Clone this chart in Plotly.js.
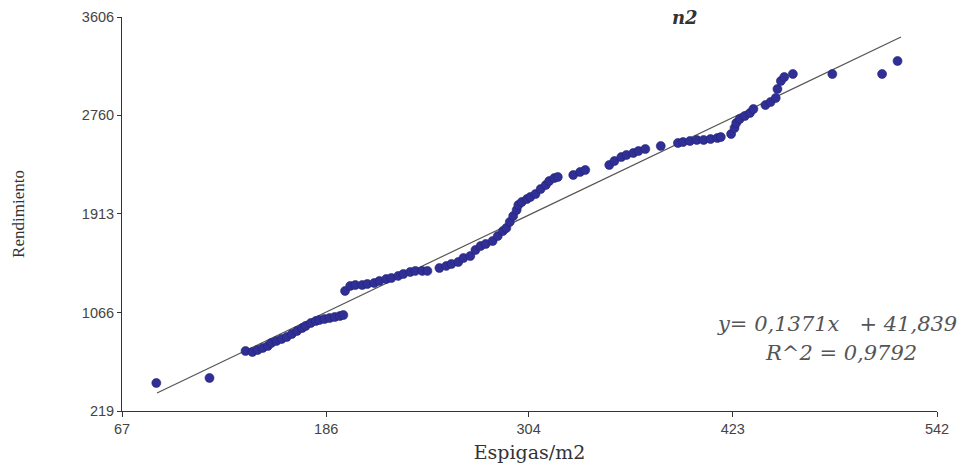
<!DOCTYPE html>
<html>
<head>
<meta charset="utf-8">
<script src="https://cdn.plot.ly/plotly-3.0.1.min.js"></script>
<style>html,body{margin:0;padding:0;background:#fff;}#chart{width:968px;height:470px;}</style>
</head>
<body>
<div id="chart"></div>
<script>
// Observed points: Espigas/m2 (x) vs Rendimiento (y)
const espigas = [87,118,139,143,146,149,152,154,157,160,163,166,169,172,174,177,180,182,185,188,191,194,196,
  197,200,203,207,210,214,217,221,224,228,231,235,238,242,245,252,256,259,263,266,270,273,276,279,283,286,289,291,293,295,297,298,300,303,305,308,311,314,316,319,321,330,334,337,351,354,358,361,365,368,372,381,391,394,398,402,406,410,414,416,422,424,425,427,430,433,435,442,445,448,449,451,453,458,481,510,519];
const rendimiento = [460,503,735,726,743,761,778,804,821,838,855,881,907,932,950,975,993,1001,1010,1018,1027,1036,1044,
  1251,1294,1302,1302,1311,1319,1337,1354,1362,1380,1397,1414,1423,1423,1423,1448,1466,1483,1500,1534,1551,1603,1637,1655,1680,1723,1766,1792,1844,1895,1947,1990,2016,2041,2059,2084,2127,2162,2196,2222,2231,2248,2274,2291,2334,2368,2402,2420,2437,2454,2471,2497,2523,2531,2540,2549,2549,2557,2566,2574,2600,2652,2695,2729,2755,2781,2815,2849,2875,2910,2987,3056,3090,3116,3116,3116,3228];
// Fitted line endpoints
const fitX = [87.4, 521.0];
const fitY = [374, 3434];
// Axis ticks
const xTicks = [67,186,304,423,542];
const yTicks = [219,1066,1913,2760,3606];
// Texts
const panelLabel = "n2";
const eqLine1 = "y= 0,1371x&nbsp;&nbsp;&nbsp;+ 41,839";
const eqLine2 = "R^2 = 0,9792";
const xTitle = "Espigas/m2";
const yTitle = "Rendimiento";

const traces = [
  {x: fitX, y: fitY, mode: 'lines', type: 'scatter', line: {color: '#555555', width: 1.2}, hoverinfo: 'skip'},
  {x: espigas, y: rendimiento, mode: 'markers', type: 'scatter',
   marker: {color: '#2f2f97', size: 9, line: {color: '#24246f', width: 0.6}}}
];

const layout = {
  width: 968, height: 470,
  margin: {l: 122, r: 31, t: 17, b: 59, pad: 0},
  paper_bgcolor: '#ffffff', plot_bgcolor: '#ffffff',
  showlegend: false,
  xaxis: {
    range: [67, 542], tickvals: xTicks, ticktext: xTicks.map(String),
    showgrid: false, zeroline: false, showline: true, linecolor: '#333', linewidth: 1,
    ticks: 'outside', ticklen: 5, tickcolor: '#333',
    tickfont: {family: 'Liberation Sans, Arial, sans-serif', size: 14.5, color: '#444'},
    title: {text: xTitle, font: {family: 'DejaVu Serif, serif', size: 19, color: '#333'}, standoff: 9}
  },
  yaxis: {
    range: [219, 3606], tickvals: yTicks, ticktext: yTicks.map(String),
    showgrid: false, zeroline: false, showline: true, linecolor: '#333', linewidth: 1,
    ticks: 'outside', ticklen: 4, tickcolor: '#333',
    tickfont: {family: 'Liberation Sans, Arial, sans-serif', size: 14.5, color: '#444'},
    title: {text: yTitle, font: {family: 'Liberation Serif, Times New Roman, serif', size: 17, color: '#333'}, standoff: 52}
  },
  annotations: [
    {text: '<b><i>' + panelLabel + '</i></b>', xref: 'paper', yref: 'paper', x: 0.691, y: 1.0, xanchor: 'center', yanchor: 'middle',
     showarrow: false, font: {family: 'DejaVu Serif, serif', size: 18, color: '#333'}},
    {text: '<i>' + eqLine1 + '</i>', xref: 'paper', yref: 'paper', x: 0.877, y: 0.22, xanchor: 'center', yanchor: 'middle',
     showarrow: false, font: {family: 'DejaVu Serif, serif', size: 21, color: '#555'}},
    {text: '<i>' + eqLine2 + '</i>', xref: 'paper', yref: 'paper', x: 0.882, y: 0.147, xanchor: 'center', yanchor: 'middle',
     showarrow: false, font: {family: 'DejaVu Serif, serif', size: 21, color: '#555'}}
  ]
};

Plotly.newPlot('chart', traces, layout, {displayModeBar: false, staticPlot: true});
</script>
</body>
</html>
